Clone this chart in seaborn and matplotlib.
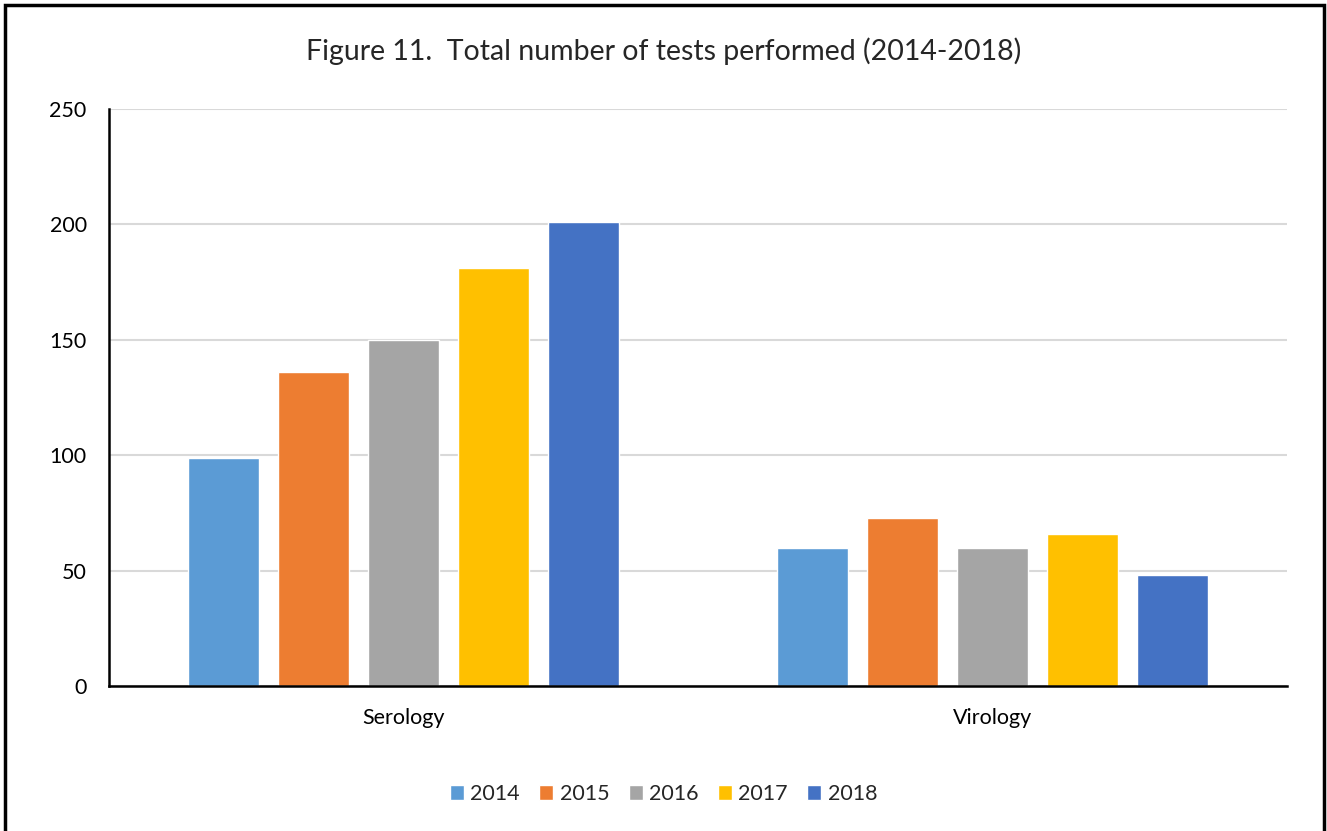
import matplotlib
matplotlib.use("Agg")

import matplotlib.pyplot as plt
import pandas as pd
import seaborn as sns
from matplotlib.patches import Rectangle

categories = ["Serology", "Virology"]
years = ["2014", "2015", "2016", "2017", "2018"]
serology = [99, 136, 150, 181, 201]
virology = [60, 73, 60, 66, 48]
colors = ["#5B9BD5", "#ED7D31", "#A5A5A5", "#FFC000", "#4472C4"]

rows = []
for cat, vals in zip(categories, [serology, virology]):
    for yr, v in zip(years, vals):
        rows.append({"Category": cat, "Year": yr, "Tests": v})
df = pd.DataFrame(rows)

sns.set_style("white")
plt.rcParams["font.family"] = ["Lato", "DejaVu Sans"]

fig = plt.figure(figsize=(13.27, 8.31), dpi=100)
ax = fig.add_axes([0.0821, 0.1745, 0.8877, 0.6943])

sns.barplot(
    data=df, x="Category", y="Tests", hue="Year",
    palette=colors, width=0.764, gap=0.21, saturation=1,
    ax=ax, legend=True,
)

ax.set_xlim(-0.5, 1.5)
ax.set_ylim(0, 250)
ax.set_yticks([0, 50, 100, 150, 200, 250])
ax.yaxis.grid(True, color="#d9d9d9", linewidth=1.5)
ax.set_axisbelow(True)
ax.set_xlabel("")
ax.set_ylabel("")
ax.tick_params(axis="both", length=0, labelsize=15.5, colors="black")
ax.tick_params(axis="y", pad=16)
ax.tick_params(axis="x", pad=16)
for s in ["top", "right"]:
    ax.spines[s].set_visible(False)
for s in ["left", "bottom"]:
    ax.spines[s].set_color("black")
    ax.spines[s].set_linewidth(1.8)

handles, labels = ax.get_legend_handles_labels()
ax.get_legend().remove()
fig.legend(
    handles, labels, loc="center", bbox_to_anchor=(0.5, 1 - 794 / 831),
    ncol=5, frameon=False, fontsize=15.5, handlelength=0.65, handleheight=0.65,
    handletextpad=0.3, columnspacing=0.9,
)

fig.text(0.5, 1 - 51 / 831, "Figure 11.  Total number of tests performed (2014-2018)",
         ha="center", va="center", fontsize=20.5)

fig.patches.append(Rectangle((0.004, -0.01), 0.994, 1.004, transform=fig.transFigure,
                             fill=False, edgecolor="black", linewidth=2.5))

fig.savefig("out.png", dpi=100)
